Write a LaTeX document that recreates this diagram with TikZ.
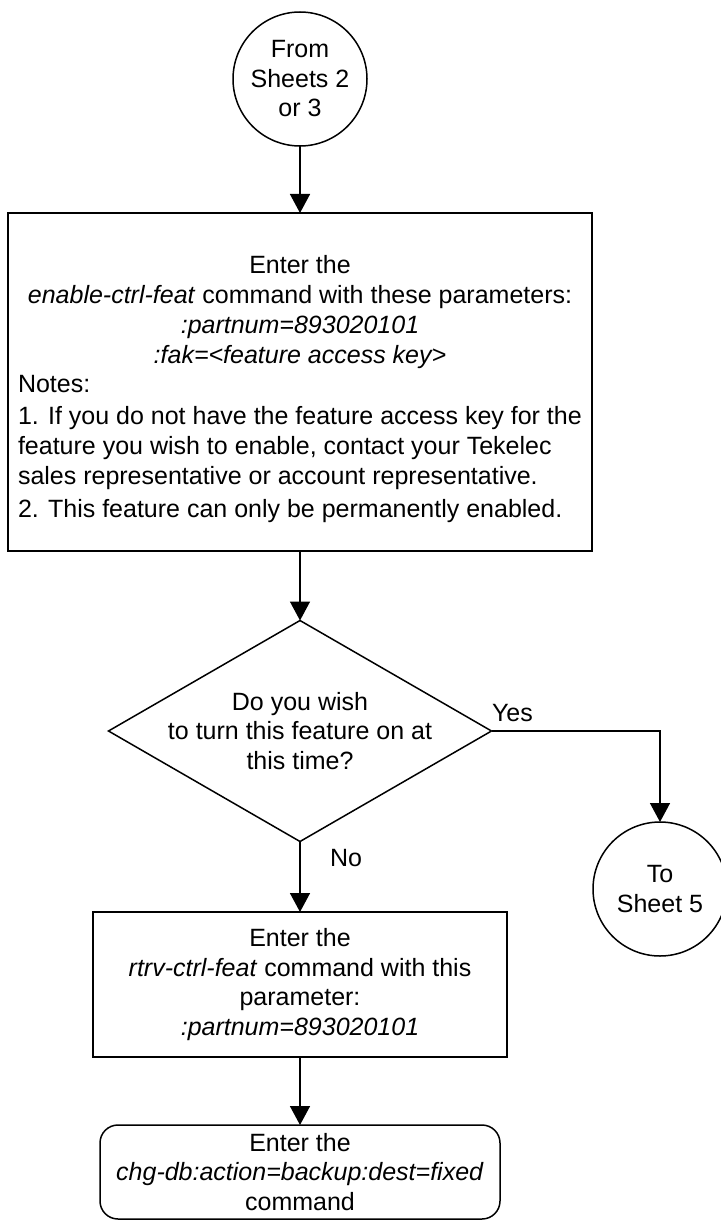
\documentclass[tikz,border=0pt]{standalone}
\usepackage{fontspec}
\setmainfont{Liberation Sans}
\usetikzlibrary{arrows.meta,shapes.geometric}
\begin{document}
\begin{tikzpicture}[x=1pt,y=-1pt,
  every node/.style={inner sep=0pt,outer sep=0pt},
  font=\fontsize{25}{29.5}\selectfont,
  shp/.style={draw,line width=1.5pt},
  conn/.style={shp,circle,minimum size=134pt,align=center},
  proc/.style={shp,rectangle,align=center},
  term/.style={shp,rectangle,rounded corners=18pt,align=center},
  dec/.style={shp,diamond,shape aspect=1.733,minimum width=383pt,minimum height=221pt},
  arr/.style={line width=1.5pt,-{Triangle[length=19pt,width=20pt]}},
  lbl/.style={font=\fontsize{25}{30}\selectfont}
]
\useasboundingbox (0,0) rectangle (720,1222);

\node[conn] (c1) at (300,79) {From\\Sheets 2\\or 3};

\node[proc,minimum width=584pt,minimum height=338pt] (b1) at (300,382) {};
\node[lbl,align=center,anchor=north] (b1h) at (300,255)
  {Enter the\\\textit{enable-ctrl-feat} command with these parameters:\\\textit{:partnum=893020101}\\\textit{:fak=<feature access key>}};
\node[lbl,align=left,anchor=north west] (b1n) at (18,375)
  {Notes:\\[2pt]1. If you do not have the feature access key for the\\feature you wish to enable, contact your Tekelec\\sales representative or account representative.\\[3pt]2. This feature can only be permanently enabled.};

\node[dec] (d) at (300,731) {};
\node[align=center] (dt) at (d.center) {Do you wish\\to turn this feature on at\\this time?};

\node[conn] (c2) at (660,889) {To\\Sheet 5};

\node[proc,minimum width=414pt,minimum height=145pt] (b2) at (300,984.5)
  {Enter the\\\textit{rtrv-ctrl-feat} command with this\\parameter:\\\textit{:partnum=893020101}};

\node[term,minimum width=400pt,minimum height=94pt] (b3) at (300,1172)
  {Enter the\\\textit{chg-db:action=backup:dest=fixed}\\command};

\node[anchor=west] (yes) at (492,713) {Yes};
\node[anchor=west] (no) at (330,858) {No};

\draw[arr] (c1.south) -- (b1.north);
\draw[arr] (b1.south) -- (d.north);
\draw[arr] (d.east) -| (c2.north);
\draw[arr] (d.south) -- (b2.north);
\draw[arr] (b2.south) -- (b3.north);
\end{tikzpicture}
\end{document}
